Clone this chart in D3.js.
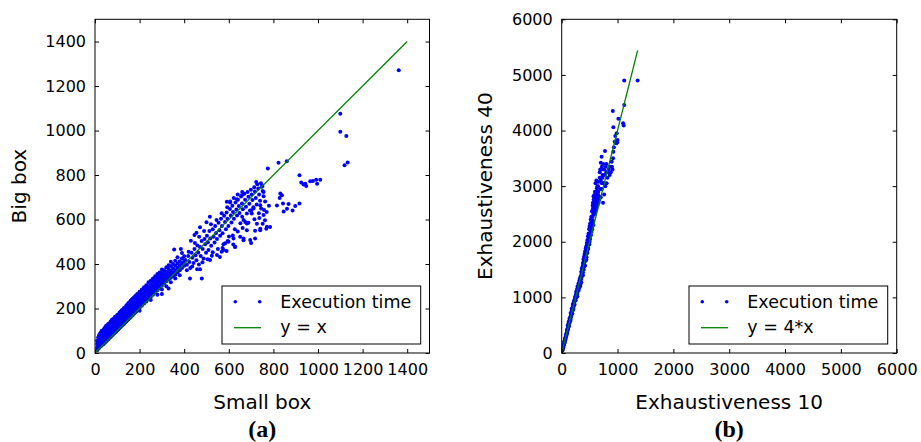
<!DOCTYPE html>
<html>
<head>
<meta charset="utf-8">
<script src="https://cdn.jsdelivr.net/npm/d3@7"></script>
<style>
  body { margin: 0; background: #fff; }
  svg { display: block; }
</style>
</head>
<body>
<svg id="chart" width="921" height="442"></svg>
<script>
// ---- data: panel (a), small box vs big box execution times ----
var smallBigDense = [
  [10,12],[10,25],[10,40],[10,55],[14,20],[14,35],[14,50],[14,70],[18,22],[18,45],[18,60],[18,80],
  [22,28],[22,40],[22,65],[22,85],[26,30],[26,52],[26,72],[26,92],[30,35],[30,48],[30,62],[30,80],[30,100],
  [35,38],[35,58],[35,75],[35,95],[40,42],[40,55],[40,70],[40,88],[40,108],[45,48],[45,65],[45,82],[45,100],[45,115],
  [50,52],[50,60],[50,75],[50,92],[50,110],[50,122],[55,58],[55,72],[55,88],[55,105],[55,125],
  [60,62],[60,70],[60,85],[60,100],[60,118],[60,132],[65,68],[65,80],[65,95],[65,112],[65,130],
  [70,72],[70,85],[70,100],[70,115],[70,128],[70,142],[75,78],[75,92],[75,108],[75,125],[75,148],
  [80,82],[80,95],[80,110],[80,122],[80,138],[80,152],[85,88],[85,102],[85,118],[85,132],[85,155],
  [90,92],[90,105],[90,120],[90,135],[90,150],[90,163],[95,97],[95,112],[95,128],[95,142],[95,160],
  [100,102],[100,115],[100,130],[100,145],[100,160],[100,172],[105,107],[105,120],[105,135],[105,152],[105,170],
  [110,112],[110,125],[110,140],[110,155],[110,168],[110,182],[115,117],[115,132],[115,148],[115,165],[115,185],
  [120,122],[120,135],[120,150],[120,162],[120,178],[120,192],[125,127],[125,142],[125,158],[125,175],[125,195],
  [130,132],[130,145],[130,160],[130,172],[130,188],[130,202],[135,137],[135,152],[135,168],[135,185],[135,205],
  [140,142],[140,155],[140,170],[140,182],[140,198],[140,212],[145,147],[145,162],[145,178],[145,195],[145,218],
  [150,152],[150,165],[150,180],[150,192],[150,208],[150,225],[155,157],[155,172],[155,188],[155,205],[155,228],
  [160,162],[160,175],[160,190],[160,202],[160,218],[160,235],[165,167],[165,182],[165,198],[165,215],[165,240],
  [170,172],[170,185],[170,200],[170,212],[170,228],[170,245],[175,177],[175,192],[175,208],[175,225],[175,250],
  [180,182],[180,195],[180,210],[180,222],[180,238],[180,255],[185,187],[185,202],[185,218],[185,235],[185,260],
  [190,192],[190,205],[190,220],[190,232],[190,248],[190,265],[195,197],[195,212],[195,228],[195,245],[195,268],
  [200,202],[200,215],[200,230],[200,242],[200,258],[200,275],[210,212],[210,225],[210,240],[210,255],[210,270],[210,285],
  [220,222],[220,235],[220,250],[220,265],[220,280],[220,295],[230,232],[230,245],[230,260],[230,275],[230,290],[230,305],
  [240,242],[240,255],[240,270],[240,285],[240,300],[240,318],[250,252],[250,265],[250,280],[250,295],[250,310],[250,325],
  [260,262],[260,275],[260,290],[260,305],[260,320],[260,335],[270,272],[270,285],[270,300],[270,315],[270,330],[270,345],
  [280,282],[280,295],[280,310],[280,325],[280,340],[280,355],[290,292],[290,305],[290,320],[290,335],[290,350],[290,362],
  [300,302],[300,315],[300,330],[300,345],[300,360],[300,375],[310,312],[310,325],[310,340],[310,355],[310,372],
  [320,322],[320,335],[320,350],[320,365],[320,385],[330,332],[330,345],[330,360],[330,378],[330,395],
  [340,338],[340,355],[340,370],[340,390],[340,410],[350,345],[350,362],[350,380],[350,400],
  [360,352],[360,372],[360,392],[360,415],[370,362],[370,382],[370,402],[380,372],[380,392],[380,412],
  [390,382],[390,402],[390,425],[400,392],[400,412],[400,435],
  [200,190],[250,238],[280,262],[300,285],[320,300],[340,318],[360,335],[380,350],[300,265],[330,290]
];
var smallBigMid = [
  [405,418],[412,397],[418,436],[423,409],[427,382],[433,451],[437,428],[442,404],[446,468],[451,439],
  [455,417],[459,483],[463,452],[466,398],[471,476],[474,436],[478,503],[483,467],[487,425],[491,512],
  [494,489],[498,451],[502,527],[506,498],[509,463],[513,548],[517,515],[521,482],[524,437],[528,556],
  [532,523],[536,497],[539,571],[543,539],[547,512],[551,468],[554,586],[558,552],[561,527],[565,603],
  [569,571],[572,538],[576,489],[579,617],[583,589],[587,556],[590,632],[594,604],[598,571],[601,524],
  [605,647],[609,618],[612,587],[616,662],[619,634],[623,603],[627,556],[630,676],[634,645],[637,618],
  [641,689],[645,661],[648,629],[652,583],[655,703],[659,672],[663,646],[666,598],[670,716],[673,689],
  [677,657],[681,627],[684,724],[688,702],[692,671],[695,641],[699,734],[703,713],[706,688],[710,655],
  [714,745],[717,726],[721,697],[725,667],[728,758],[732,739],[736,712],[740,684],[744,763],[748,747],
  [752,728],[756,705],[412,372],[436,389],[458,376],[482,408],[505,421],[528,453],[547,441],[572,472],
  [595,503],[618,528],[640,546],[662,562],[688,585],[715,601],[735,628],[758,643],[780,662],[620,488],
  [590,458],[560,432],[660,612],[700,640],[745,650],[420,455],[448,495],[467,522],[489,548],[520,579],
  [545,598],[568,628],[593,655],[606,681],[622,697],[640,712],[660,724],[500,588],[515,612],[471,565],
  [455,540],[390,450],[370,430],[385,468],[430,505]
];
var smallBigOut = [
  [355,465],[446,530],[471,377],[426,335],[479,335],[516,418],[568,455],[628,477],[666,507],[718,515],
  [681,582],[741,552],[762,597],[771,567],[700,495],
  [775,829],[823,855],[860,862],[917,799],[925,766],[935,757],[947,751],[943,761],[965,772],[977,773],
  [992,779],[996,761],[1010,779],[1119,844],[1133,856],[1100,1076],[1100,994],[1127,975],[1362,1271],
  [831,717],[838,709],[828,697],[843,672],[868,670],[886,640],[846,636],[861,648],[917,672],[898,661],[816,663],
  [763,681],[723,769],[751,751],[756,724],[659,709],[591,680],[606,676],[636,691],[711,649],[741,664],
  [703,627],[770,634],[756,620],[737,607],[726,581],[752,581],[785,566],[768,559],[741,559],[674,589],
  [681,552],[718,549],[651,522],[666,515],[696,508],[621,515],[599,500],[628,478],[584,493],[576,463]
];
var refLineA = [[0, 0], [1400, 1400]];

// ---- data: panel (b), exhaustiveness 10 vs 40 ----
var exhaustPoints = [
  [10,40],[15,70],[20,60],[25,110],[30,100],[35,150],[40,140],[45,170],[50,210],[55,190],[60,230],[65,270],
  [70,250],[75,300],[80,290],[85,340],[90,330],[95,380],[100,360],[100,420],[105,400],[110,450],[115,430],
  [120,470],[120,520],[125,500],[130,480],[135,560],[140,540],[145,600],[150,570],[150,640],[155,620],
  [160,600],[165,680],[170,650],[175,720],[180,700],[180,760],[185,740],[190,710],[195,800],[200,770],
  [200,850],[205,820],[210,790],[215,880],[220,850],[220,930],[225,900],[230,870],[235,960],[240,940],
  [240,1010],[245,980],[250,950],[255,1050],[260,1020],[260,1100],[265,1000],[270,1080],[275,1150],
  [280,1120],[280,1060],[285,1200],[290,1160],[295,1130],[300,1250],[300,1190],[305,1220],[310,1160],
  [315,1300],[320,1260],[320,1200],[325,1340],[330,1280],[335,1230],[340,1380],[345,1330],[350,1270],
  [350,1460],[355,1420],[360,1370],[360,1520],[365,1480],[370,1430],[375,1560],[380,1510],[380,1450],
  [385,1600],[390,1560],[395,1500],[400,1650],[400,1590],[405,1700],[410,1640],[415,1580],[420,1760],
  [420,1690],[425,1800],[430,1730],[430,1660],[435,1850],[440,1780],[445,1720],[450,1900],[450,1830],
  [455,1950],[460,1880],[460,1800],[465,2020],[470,1950],[475,1870],[480,2050],[480,1980],[485,2100],
  [490,2020],[495,1950],[500,2150],[500,2080],[505,2220],[510,2150],[510,2050],[515,2280],[520,2200],
  [525,2120],[530,2350],[530,2260],[535,2180],[540,2400],[545,2310],[550,2230],[555,2450],[560,2380],
  [560,2600],[565,2500],[570,2300],[570,2700],[575,2640],[580,2560],[585,2750],[590,2680],[595,2610],
  [600,2800],[600,2720],[605,2650],[610,2900],[615,2760],[620,2690],[625,2850],[630,2960],[635,2780],
  [640,3000],[650,2700],[655,2900],[660,3080],[665,2820],[670,2750],[680,3250],[690,2950],[700,2800],
  [700,3100],[710,3300],[715,3530],[720,2950],[730,3150],[740,2700],[745,3400],[750,3050],[760,2850],
  [770,3200],[775,3630],[780,3000],[790,3350],[800,3250],[805,3050],[820,3150],[840,3300],[860,3200],
  [880,3250],[895,3440],[900,3350],[910,3300],[920,3500],[925,3620],[935,3700],[950,3800],[960,3900],
  [980,3770],[985,3950],[995,3790],[1000,3830],[925,4060],[915,4350],[1015,4210],[1100,4130],[1110,4090],
  [1120,4460],[1120,4900],[1360,4900],
  [560,2700],[575,2760],[585,2840],[595,2900],[605,3050],[620,3100],[570,2820],[555,2650],[540,2550],
  [530,2450],[520,2400],[510,2330],[500,2280],[490,2230],[480,2150],[470,2100],[460,2030],[450,1980],
  [440,1920],[430,1880],[420,1830],[410,1780],[400,1730],[390,1680],[380,1620],[600,2550],[620,2600],
  [640,2650],[660,2700],[680,2780],[650,2850],[610,2780],[590,2500],[550,2350],[530,2200],[500,2000],
  [470,1900],[440,1680],[410,1560],[380,1400],[350,1330],[330,1200],[300,1120],[280,1020],[250,1000],
  [230,950],[200,880],[180,800],[160,720],[140,620],[125,560],[110,500],[95,420],[80,340],[60,260],[45,200],
  [690,3300],[700,3420],[720,3350],[680,3150],[650,3000],[730,3200],[760,3300],[800,3400],[830,3250],
  [870,3350],[760,3050],[720,3050]
];
var refLineB = [[0, 0], [1360, 5440]];

var ticksA = [0, 200, 400, 600, 800, 1000, 1200, 1400];
var ticksB = [0, 1000, 2000, 3000, 4000, 5000, 6000];
var legendA = ["Execution time", "y = x"];
var legendB = ["Execution time", "y = 4*x"];

var svg = d3.select("#chart");
var FONT = "DejaVu Sans, sans-serif";

function drawPanel(p) {
    var x = d3.scaleLinear().domain([0, p.max]).range([p.left, p.right]);
    var y = d3.scaleLinear().domain([0, p.max]).range([p.bottom, p.top]);
    var g = svg.append("g");

    g.append("clipPath").attr("id", p.id + "clip")
        .append("rect")
        .attr("x", p.left).attr("y", p.top)
        .attr("width", p.right - p.left).attr("height", p.bottom - p.top);

    var plot = g.append("g").attr("clip-path", "url(#" + p.id + "clip)");

    plot.selectAll("circle.pt")
        .data(p.points)
        .enter().append("circle")
        .attr("class", "pt")
        .attr("cx", function(d) { return x(d[0]); })
        .attr("cy", function(d) { return y(d[1]); })
        .attr("r", 2)
        .attr("fill", "#0000ff");

    plot.append("path")
        .datum(p.ref)
        .attr("fill", "none")
        .attr("stroke", "#008000")
        .attr("stroke-width", 1.3)
        .attr("d", d3.line().x(function(d) { return x(d[0]); }).y(function(d) { return y(d[1]); }));

    // axes with inward ticks on all four sides
    var bottom = g.append("g").attr("transform", "translate(0," + p.bottom + ")")
        .call(d3.axisBottom(x).tickValues(p.ticks).tickSizeInner(-4).tickSizeOuter(0).tickPadding(10.5).tickFormat(d3.format("d")));
    var left = g.append("g").attr("transform", "translate(" + p.left + ",0)")
        .call(d3.axisLeft(y).tickValues(p.ticks).tickSizeInner(-4).tickSizeOuter(0).tickPadding(9).tickFormat(d3.format("d")));
    var top = g.append("g").attr("transform", "translate(0," + p.top + ")")
        .call(d3.axisTop(x).tickValues(p.ticks).tickSizeInner(-4).tickSizeOuter(0).tickFormat(""));
    var right = g.append("g").attr("transform", "translate(" + p.right + ",0)")
        .call(d3.axisRight(y).tickValues(p.ticks).tickSizeInner(-4).tickSizeOuter(0).tickFormat(""));

    [bottom, left, top, right].forEach(function(a) {
        a.select(".domain").remove();
        a.selectAll("line").attr("stroke", "#000");
        a.attr("font-family", FONT).attr("font-size", 16);
        a.selectAll("text").attr("fill", "#000");
    });

    g.append("rect")
        .attr("x", p.left).attr("y", p.top)
        .attr("width", p.right - p.left).attr("height", p.bottom - p.top)
        .attr("fill", "none").attr("stroke", "#000").attr("stroke-width", 1);

    // axis titles
    var cx = (p.left + p.right) / 2, cy = (p.top + p.bottom) / 2;
    g.append("text")
        .attr("x", cx).attr("y", 409)
        .attr("text-anchor", "middle")
        .attr("font-family", FONT).attr("font-size", 20)
        .text(p.xLabel);
    g.append("text")
        .attr("transform", "translate(" + p.yLabelX + "," + cy + ") rotate(-90)")
        .attr("text-anchor", "middle")
        .attr("font-family", FONT).attr("font-size", 20)
        .text(p.yLabel);

    // caption
    g.append("text")
        .attr("x", cx).attr("y", 437)
        .attr("text-anchor", "middle")
        .attr("font-family", "Liberation Serif, serif").attr("font-weight", "bold").attr("font-size", 24)
        .text(p.caption);

    // legend
    var lx = p.legendX, ly = 286;
    var lg = g.append("g");
    lg.append("rect")
        .attr("x", lx).attr("y", ly).attr("width", 198.7).attr("height", 58)
        .attr("fill", "#fff").attr("stroke", "#000").attr("stroke-width", 1);
    lg.selectAll("circle")
        .data([13.3, 37.7])
        .enter().append("circle")
        .attr("cx", function(d) { return lx + d; })
        .attr("cy", ly + 15.7)
        .attr("r", 1.8)
        .attr("fill", "#0000ff");
    lg.append("line")
        .attr("x1", lx + 12).attr("x2", lx + 39)
        .attr("y1", ly + 41.7).attr("y2", ly + 41.7)
        .attr("stroke", "#008000").attr("stroke-width", 1.3);
    lg.selectAll("text")
        .data(p.legend)
        .enter().append("text")
        .attr("x", lx + 58.3)
        .attr("y", function(d, i) { return ly + 21.5 + i * 25.7; })
        .attr("font-family", FONT).attr("font-size", 17.5)
        .text(function(d) { return d; });
}

drawPanel({
    id: "a", left: 95, right: 429.5, top: 19.3, bottom: 353, max: 1500,
    points: smallBigDense.concat(smallBigMid, smallBigOut), ref: refLineA, ticks: ticksA,
    xLabel: "Small box", yLabel: "Big box", yLabelX: 26, caption: "(a)",
    legend: legendA, legendX: 222
});

drawPanel({
    id: "b", left: 561.7, right: 896.7, top: 19.3, bottom: 353, max: 6000,
    points: exhaustPoints, ref: refLineB, ticks: ticksB,
    xLabel: "Exhaustiveness 10", yLabel: "Exhaustiveness 40", yLabelX: 492, caption: "(b)",
    legend: legendB, legendX: 689
});
</script>
</body>
</html>
